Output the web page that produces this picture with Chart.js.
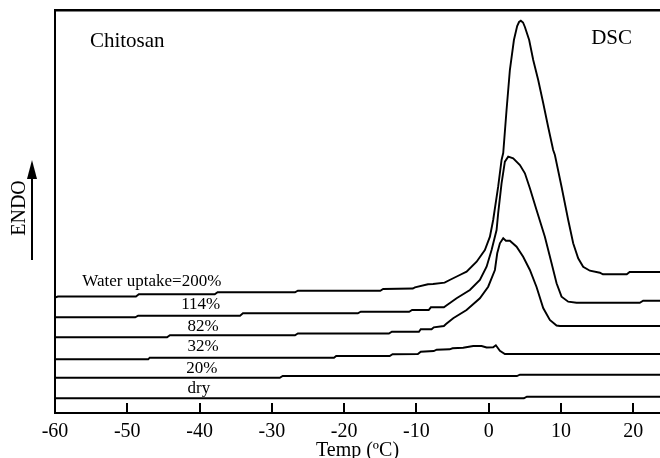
<!DOCTYPE html>
<html lang="en">
<head>
  <meta charset="UTF-8" />
  <title>Chitosan DSC</title>
  <script src="https://cdn.jsdelivr.net/npm/chart.js"></script>
  <style>
    body { margin: 0; background: #fff; }
    #wrap { width: 660px; height: 458px; }
  </style>
</head>
<body>
  <div id="wrap"><canvas id="dsc" width="660" height="458"></canvas></div>

  <script>
    // tick labels on the temperature axis
    const xTicks = [-60, -50, -40, -30, -20, -10, 0, 10, 20]
    const seriesNames = ['Water uptake=200%', '114%', '82%', '32%', '20%', 'dry']

    // heat flow traces (arbitrary units, endo up)
    const t200 = [-60, -59.6, -48.8, -48.4, -37.9, -37.5, -26.8, -26.4, -15.0, -14.6, -10.5, -10.2, -8.4, -7.7, -6.1, -5.4, -4.0, -3.06, -1.67, -0.53, 0.17, 0.62, 1.31, 1.78, 2.01, 2.47, 2.93, 3.49, 3.94, 4.2, 4.45, 4.75, 5.01, 5.60, 6.16, 6.85, 7.54, 8.23, 8.92, 9.16, 10.08, 11.0, 11.69, 12.38, 13.07, 14.0, 15.38, 15.8, 19.1, 19.5, 23.7]
    const h200 = [115.5, 116.5, 116.5, 118.7, 118.7, 120.7, 120.7, 122.3, 122.3, 124, 124.5, 125.7, 128.7, 129, 130.3, 133, 138, 141.3, 151.3, 163, 176.3, 193, 226.3, 253, 260, 303, 343, 373, 387, 391, 392.3, 390.5, 386, 373, 353, 333, 310, 286, 263, 258, 226.3, 193, 169.7, 154.7, 146.3, 142.3, 140.3, 138.7, 138.7, 141, 141]

    const t114 = [-60, -48.9, -48.5, -34.4, -34.0, -18.1, -17.7, -11.0, -10.6, -8.3, -8.0, -6.2, -5.9, -4.44, -2.6, -1.22, -0.29, 0.4, 1.09, 1.31, 1.78, 2.24, 2.70, 3.39, 4.32, 5.01, 5.70, 6.62, 7.77, 8.70, 9.39, 10.08, 11.0, 12.16, 20.9, 21.37, 23.7]
    const h114 = [95.7, 95.7, 97.3, 97.3, 99.7, 99.7, 101.3, 101.3, 103, 103, 105.7, 105.7, 107.3, 114.7, 123, 133, 146.3, 163, 183, 199.7, 229.7, 251.3, 256.3, 254.7, 248, 239.7, 224.7, 203, 176.3, 149.7, 129.7, 116.3, 111.3, 110.3, 110.3, 112.3, 112.3]

    const t82 = [-60, -44.5, -44.1, -26.8, -26.4, -13.8, -13.4, -9.65, -9.4, -7.9, -7.6, -6.2, -5.9, -4.91, -3.06, -1.22, -0.07, 0.86, 1.18, 1.55, 2.01, 2.38, 2.93, 3.86, 4.77, 5.70, 6.62, 7.54, 8.46, 9.39, 9.85, 23.7]
    const h82 = [75.7, 75.7, 77.7, 77.7, 79.5, 79.5, 81.3, 81.3, 83.7, 83.7, 85.7, 87, 89, 94.7, 103, 114.7, 126.3, 143, 159.7, 169.7, 174.7, 172.3, 172.3, 166.3, 156.3, 143, 126, 105, 93, 87.5, 87, 87]

    const t32 = [-60, -47.1, -46.9, -21.4, -21.1, -13.7, -13.3, -9.8, -9.4, -7.6, -7.2, -5.4, -5.0, -3.53, -2.14, -0.98, -0.29, 0.62, 0.99, 1.55, 2.24, 23.7]
    const h32 = [53.7, 53.7, 55.3, 55.3, 57, 57, 58.8, 59, 61.3, 62, 63.3, 63.7, 64.7, 65.3, 67, 67, 65.5, 65.7, 67.7, 62.3, 59, 59]

    const t20 = [-60, -28.9, -28.5, 3.9, 4.32, 23.7]
    const h20 = [35.3, 35.3, 37, 37, 38.3, 38.3]

    const tDry = [-60, 4.87, 5.28, 23.7]
    const hDry = [14.7, 14.7, 16.3, 16.3]

    const traces = [[t200, h200], [t114, h114], [t82, h82], [t32, h32], [t20, h20], [tDry, hDry]]

    // where the trace labels sit, in axis units
    const labelSpots = [[-46.6, 131], [-39.85, 108], [-39.5, 86], [-39.5, 66.3], [-39.7, 44.7], [-40.1, 24.7]]

    const serif = "'Liberation Serif', 'DejaVu Serif', serif"

    const datasets = traces.map(([t, h], i) => ({
      label: seriesNames[i],
      data: t.map((x, j) => ({ x: x, y: h[j] })),
      borderColor: '#000',
      borderWidth: 1.9,
      pointRadius: 0,
      tension: 0,
      fill: false
    }))

    const decorations = {
      id: 'decorations',
      afterDraw(chart) {
        const { ctx, chartArea, scales } = chart
        const x = scales.x, y = scales.y
        ctx.save()
        ctx.fillStyle = '#000'
        ctx.strokeStyle = '#000'

        // inward tick marks
        ctx.lineWidth = 2
        xTicks.forEach(v => {
          const px = Math.round(x.getPixelForValue(v))
          ctx.beginPath()
          ctx.moveTo(px, chartArea.bottom)
          ctx.lineTo(px, chartArea.bottom - 10)
          ctx.stroke()
        })

        // trace labels
        ctx.font = '17px ' + serif
        ctx.textAlign = 'center'
        ctx.textBaseline = 'middle'
        labelSpots.forEach(([lx, ly], i) => {
          ctx.fillText(seriesNames[i], x.getPixelForValue(lx), y.getPixelForValue(ly))
        })

        ctx.font = '21px ' + serif
        ctx.fillText('Chitosan', x.getPixelForValue(-50), y.getPixelForValue(372))
        ctx.fillText('DSC', x.getPixelForValue(17), y.getPixelForValue(375))

        // ENDO arrow
        ctx.lineWidth = 2
        ctx.beginPath()
        ctx.moveTo(32, 260)
        ctx.lineTo(32, 172)
        ctx.stroke()
        ctx.beginPath()
        ctx.moveTo(32, 160)
        ctx.lineTo(27, 179)
        ctx.lineTo(37, 179)
        ctx.closePath()
        ctx.fill()

        ctx.translate(20, 208)
        ctx.rotate(-Math.PI / 2)
        ctx.font = '20px ' + serif
        ctx.fillText('ENDO', 0, 0)
        ctx.restore()
      }
    }

    new Chart(document.getElementById('dsc'), {
      type: 'line',
      data: { datasets: datasets },
      plugins: [decorations],
      options: {
        responsive: false,
        animation: false,
        layout: { padding: { left: 55, top: 10, right: 0, bottom: 0 } },
        plugins: { legend: { display: false }, tooltip: { enabled: false } },
        scales: {
          x: {
            type: 'linear',
            min: -60,
            max: 23.7,
            afterBuildTicks: s => { s.ticks = xTicks.map(v => ({ value: v })) },
            afterFit: s => { s.height = 45 },
            ticks: {
              autoSkip: false,
              maxRotation: 0,
              padding: 7,
              color: '#000',
              font: { family: serif, size: 20 },
              callback: v => String(v)
            },
            grid: { display: false, drawTicks: false },
            border: { display: true, color: '#000', width: 2 },
            title: {
              display: true,
              text: 'Temp (ºC)',
              color: '#000',
              font: { family: serif, size: 20, lineHeight: 1 },
              padding: { top: 0, bottom: -3 }
            }
          },
          x2: {
            type: 'linear',
            position: 'top',
            min: -60,
            max: 23.7,
            afterFit: s => { s.height = 0 },
            ticks: { display: false },
            grid: { display: false, drawTicks: false },
            border: { display: true, color: '#000', width: 2.5 }
          },
          y: {
            min: 0,
            max: 403,
            afterFit: s => { s.width = 0 },
            ticks: { display: false },
            grid: { display: false, drawTicks: false },
            border: { display: true, color: '#000', width: 2 }
          }
        }
      }
    })
  </script>
</body>
</html>
